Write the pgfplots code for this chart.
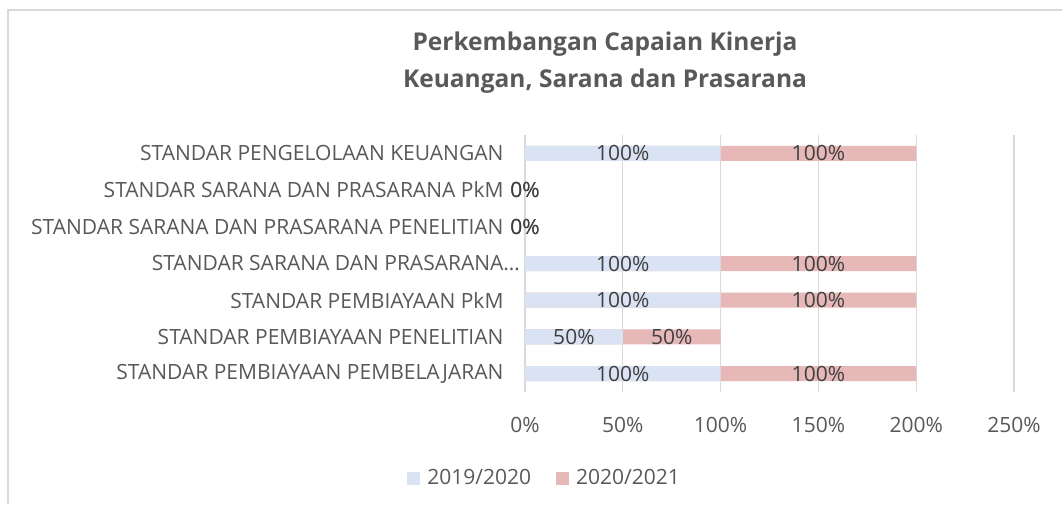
\documentclass[border=0pt]{standalone}
\usepackage{pgfplots}
\pgfplotsset{compat=1.18}
\usepackage{pgfplotstable}
\usepackage{fontspec}
\setmainfont{Open Sans}
\definecolor{cblue}{HTML}{DAE3F3}
\definecolor{cred}{HTML}{E6B8B7}
\definecolor{txt}{HTML}{595959}
\definecolor{lab}{HTML}{404040}
\definecolor{grd}{HTML}{D9D9D9}
\pgfplotstableread{
y a b
0 100 100
1 50 50
2 100 100
3 100 100
4 0 0
5 0 0
6 100 100
}\data
\begin{document}
\begin{tikzpicture}
\path[use as bounding box, fill=white] (0pt,0pt) rectangle (1062pt,504pt);
\draw[grd, line width=1.2pt] (8pt,0pt) -- (8pt,494pt) -- (1062pt,494pt);
\node[font=\fontsize{24.5}{37}\selectfont\bfseries, text=txt, align=center, anchor=center] at (605pt,441pt) {Perkembangan Capaian Kinerja\\Keuangan, Sarana dan Prasarana};
\begin{axis}[
  at={(525pt,112pt)}, anchor=south west,
  scale only axis, width=489pt, height=257pt,
  clip=false,
  xmin=0, xmax=250, ymin=-0.5, ymax=6.5,
  xtick={0,50,...,250},
  xticklabel={\pgfmathprintnumber{\tick}\%},
  ytick={0,...,6},
  yticklabels={STANDAR PEMBIAYAAN PEMBELAJARAN, STANDAR PEMBIAYAAN PENELITIAN, STANDAR PEMBIAYAAN PkM, STANDAR SARANA DAN PRASARANA\rlap{\dots}, STANDAR SARANA DAN PRASARANA PENELITIAN, STANDAR SARANA DAN PRASARANA PkM, STANDAR PENGELOLAAN KEUANGAN},
  xmajorgrids, grid style={grd, line width=1.2pt},
  axis line style={draw=none},
  major tick length=0pt,
  tick label style={font=\fontsize{21}{25}\selectfont, text=txt},
  /pgf/number format/assume math mode=true,
  yticklabel style={xshift=-18pt},
  xticklabel style={yshift=-22pt},
  legend style={at={(0.040,-0.335)}, anchor=center, draw=none, legend columns=2, font=\fontsize{21}{25}\selectfont, text=txt, /tikz/every odd column/.append style={column sep=5pt}, /tikz/every even column/.append style={column sep=23pt}},
  legend image code/.code={\fill[#1] (0pt,-6.5pt) rectangle (13pt,6.5pt);},
]
% 2020/2021 segment drawn as the total length, then 2019/2020 over it
\addplot[xbar, bar shift=0pt, bar width=15pt, fill=cred, draw=none, forget plot]
  table[x expr=\thisrow{a}+\thisrow{b}, y=y] {\data};
\addplot[xbar, bar shift=0pt, bar width=15pt, fill=cblue, draw=none]
  table[x=a, y=y] {\data};
\addlegendentry{2019/2020}
\addlegendimage{fill=cred, draw=none}
\addlegendentry{2020/2021}
\addplot[only marks, mark=none, point meta=explicit, nodes near coords={\pgfmathprintnumber{\pgfplotspointmeta}\%}, nodes near coords align={center},
  every node near coord/.append style={font=\fontsize{21}{25}\selectfont, text=lab, inner sep=0pt}]
  table[x expr=\thisrow{a}/2, y=y, meta=a] {\data};
\addplot[only marks, mark=none, point meta=explicit, nodes near coords={\pgfmathprintnumber{\pgfplotspointmeta}\%}, nodes near coords align={center},
  every node near coord/.append style={font=\fontsize{21}{25}\selectfont, text=lab, inner sep=0pt}]
  table[x expr=\thisrow{a}+\thisrow{b}/2, y=y, meta=b] {\data};
\end{axis}
\end{tikzpicture}
\end{document}
